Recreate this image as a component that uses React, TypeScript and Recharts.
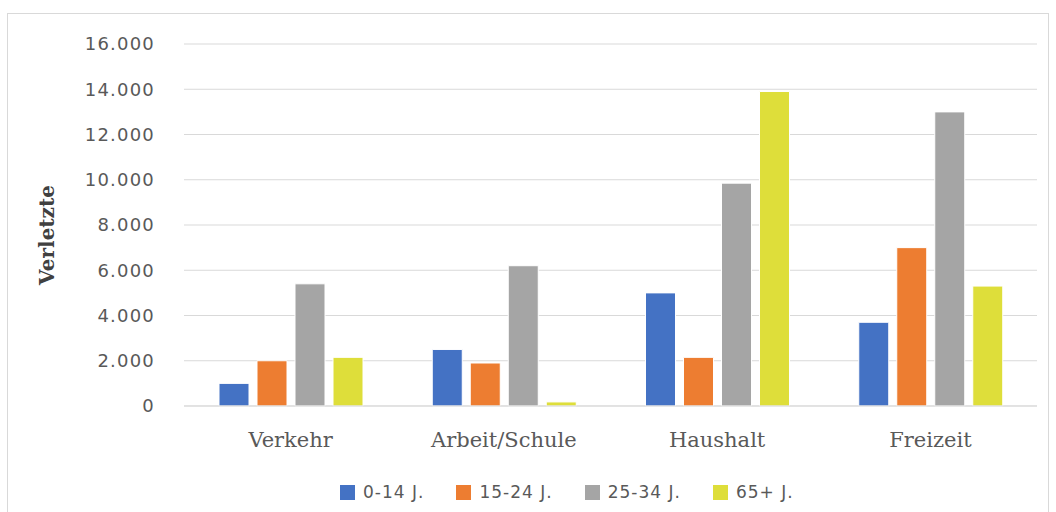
import React from "react";
import { BarChart, Bar, XAxis, YAxis, CartesianGrid, Label } from "recharts";

const categories = ["Verkehr", "Arbeit/Schule", "Haushalt", "Freizeit"];
const seriesNames = ["0-14 J.", "15-24 J.", "25-34 J.", "65+ J."];
const seriesColors = ["#4472C4", "#ED7D31", "#A5A5A5", "#DEDE3A"];
const age0_14 = [1000, 2500, 5000, 3700];
const age15_24 = [2000, 1900, 2150, 7000];
const age25_34 = [5400, 6200, 9850, 13000];
const age65plus = [2150, 180, 13900, 5300];
const yTicks = [0, 2000, 4000, 6000, 8000, 10000, 12000, 14000, 16000];
const yTitle = "Verletzte";

const seriesValues = [age0_14, age15_24, age25_34, age65plus];
const data = categories.map((c, i) => {
  const row: any = { name: c };
  seriesNames.forEach((s, j) => {
    row[s] = seriesValues[j][i];
  });
  return row;
});

const fmt = (v: number) => v.toLocaleString("de-DE");

const LegendBox = () => (
  <div
    style={{
      position: "absolute",
      left: 340,
      top: 482,
      display: "flex",
      alignItems: "center",
      fontFamily: "DejaVu Sans",
      fontSize: 17,
      letterSpacing: 1,
      color: "#595959",
      whiteSpace: "nowrap",
    }}
  >
    {seriesNames.map((s, i) => (
      <div key={s} style={{ display: "flex", alignItems: "center", marginRight: 32 }}>
        <span style={{ display: "inline-block", width: 15, height: 15, background: seriesColors[i], marginRight: 8 }} />
        <span>{s}</span>
      </div>
    ))}
  </div>
);

const YTitle = () => (
  <text
    x={47}
    y={235}
    transform="rotate(-90 47 235)"
    textAnchor="middle"
    dominantBaseline="central"
    style={{ fontFamily: "DejaVu Serif", fontSize: 20, fontWeight: "bold", fill: "#404040" }}
  >
    {yTitle}
  </text>
);

export default function App() {
  return (
    <div style={{ position: "absolute", left: 0, top: 0, width: 1056, height: 512, background: "#fff", overflow: "hidden" }}>
      <div style={{ position: "absolute", left: 7, top: 13, width: 1042, height: 520, border: "1px solid #d9d9d9", boxSizing: "border-box" }} />
      <div style={{ position: "absolute", left: 0, top: 0 }}>
        <BarChart
          width={1056}
          height={512}
          data={data}
          margin={{ top: 44, right: 19, bottom: 76, left: 0 }}
          barSize={30}
          barGap={8}
        >
          <CartesianGrid vertical={false} stroke="#d9d9d9" strokeWidth={1} />
          <XAxis
            dataKey="name"
            height={30}
            axisLine={{ stroke: "#d9d9d9" }}
            tickLine={false}
            tickMargin={20}
            tick={{ fontFamily: "DejaVu Serif", fontSize: 21, fill: "#595959" }}
          />
          <YAxis
            width={184}
            domain={[0, 16000]}
            ticks={yTicks}
            tickFormatter={fmt}
            axisLine={false}
            tickLine={false}
            tickMargin={23}
            tick={{ fontFamily: "DejaVu Sans", fontSize: 18, fill: "#595959", letterSpacing: 1.2 }}
          >
            <Label content={<YTitle />} />
          </YAxis>
          {seriesNames.map((s, i) => (
            <Bar key={s} dataKey={s} fill={seriesColors[i]} stroke="#ffffff" strokeWidth={1} isAnimationActive={false} />
          ))}
        </BarChart>
      </div>
      <LegendBox />
    </div>
  );
}
